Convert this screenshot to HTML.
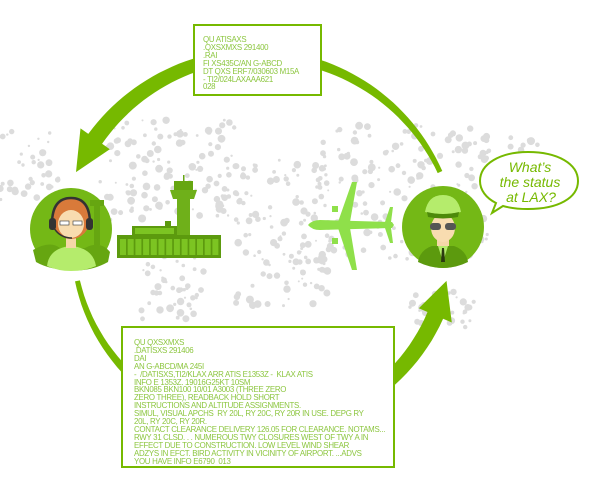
<!DOCTYPE html>
<html><head><meta charset="utf-8">
<style>
html,body{margin:0;padding:0;background:#fff;}
#w{position:relative;width:600px;height:486px;overflow:hidden;font-family:"Liberation Sans",sans-serif;}
.box{position:absolute;background:#fff;border:2px solid #76b900;color:#8cc63f;font-size:7.9px;line-height:7.9px;white-space:pre;letter-spacing:-0.3px;}
svg{position:absolute;left:0;top:0;}
</style></head><body><div id="w">
<svg id="s" width="600" height="486" viewBox="0 0 600 486">
<g id="dots" fill="#dcdcdc"></g>
<path id="a1" fill="#76b900"/>
<path id="a2" fill="#76b900"/>
<circle cx="71" cy="229" r="41" fill="#74b816"/>
<rect x="94" y="205" width="6" height="40" fill="#66a611"/>
<rect x="90" y="200" width="14" height="6" fill="#66a611"/>
<path d="M33 250 Q50 240 60 248 L85 248 Q100 240 110 252 L108 262 Q90 272 71 270 Q50 270 36 262Z" fill="#66a611"/>
<path d="M47 266 Q49 248 71 246 Q93 248 96 266 Q85 271 71 271 Q58 271 47 266Z" fill="#b5ec6c"/>
<rect x="66" y="236" width="10" height="12" fill="#f5d7a8"/>
<ellipse cx="71" cy="219" rx="19" ry="20" fill="#d97a3a"/>
<ellipse cx="71" cy="224" rx="13" ry="14" fill="#f8dcb0"/>
<path d="M55 214 Q71 198 88 214 L88 206 Q71 192 54 206Z" fill="#d97a3a"/>
<path d="M52 224 Q52 198 71 198 Q90 198 90 224" fill="none" stroke="#333" stroke-width="2.5"/>
<rect x="49" y="218" width="7" height="12" rx="3" fill="#333"/>
<rect x="86" y="218" width="7" height="12" rx="3" fill="#333"/>
<path d="M54 228 Q60 238 72 238" fill="none" stroke="#333" stroke-width="1.5"/>
<rect x="60" y="221" width="9" height="4" fill="#fff" stroke="#333" stroke-width="0.6"/>
<rect x="73" y="221" width="9" height="4" fill="#fff" stroke="#333" stroke-width="0.6"/>
<rect x="177" y="192" width="13" height="45" fill="#6fb01a"/>
<path d="M170 190 L197 190 L194 199 L173 199Z" fill="#6fb01a"/>
<rect x="174" y="181" width="19" height="9" fill="#66a611"/>
<rect x="183" y="175" width="1.5" height="7" fill="#66a611"/>
<rect x="132" y="226" width="45" height="10" fill="#5c9a0e"/>
<rect x="135" y="228" width="39" height="6" fill="#7cc422"/>
<rect x="165" y="221" width="6" height="6" fill="#5c9a0e"/>
<rect x="117" y="235" width="104" height="23" fill="#5c9a0e"/>
<g id="win" fill="#7cc422"></g>
<g fill="#8fe04a">
<path d="M308 225 Q312 220 320 220 L392 222 L394 225 L392 228 L320 230 Q312 230 308 225Z"/>
<path d="M352 182 L357 182 L350 222 L338 222Z"/>
<path d="M338 228 L350 228 L357 270 L352 270Z"/>
<path d="M385 222 L390 207 L393 207 L391 222Z"/>
<path d="M385 228 L390 243 L393 243 L391 228Z"/>
<rect x="332" y="206" width="6" height="6"/>
<rect x="332" y="238" width="6" height="6"/>
</g>
<circle cx="443" cy="227" r="41" fill="#74b816"/>
<path d="M418 262 Q420 250 432 246 L454 246 Q466 250 468 262 Q456 268 443 268 Q430 268 418 262Z" fill="#5c9a0e"/>
<path d="M438 246 L448 246 L443 262Z" fill="#b5ec6c"/>
<path d="M442 248 L444 248 L445 262 L441 262Z" fill="#2b3a10"/>
<rect x="437" y="234" width="12" height="12" fill="#f5d7a8"/>
<ellipse cx="443" cy="228" rx="12" ry="14" fill="#f8dcb0"/>
<path d="M425 212 Q428 195 443 195 Q458 195 461 212 Q443 216 425 212Z" fill="#b5ec6c"/>
<path d="M427 212 Q443 216 459 212 L458 217 Q443 220 428 217Z" fill="#4d8a0a"/>
<rect x="430" y="223" width="11" height="7" rx="3" fill="#555"/>
<rect x="445" y="223" width="11" height="7" rx="3" fill="#555"/>
<path d="M528 152 C558 152 578 164 578 181 C578 198 558 209 528 209 C518 209 510 208 503 206 L492 213 L496 203 C486 198 480 190 480 181 C480 164 500 152 528 152Z" fill="#fff" stroke="#76b900" stroke-width="2"/>
<g font-family="Liberation Sans,sans-serif" font-style="italic" font-size="14" fill="#76b900" text-anchor="middle">
<text x="530" y="172">What’s</text>
<text x="530" y="187">the status</text>
<text x="531" y="202">at LAX?</text>
</g>
</svg>
<div class="box" style="left:193px;top:24px;padding:10px 0 0 8px;box-sizing:border-box;width:129px;height:72px;">QU ATISAXS
.QXSXMXS 291400
.RAI
FI XS435C/AN G-ABCD
DT QXS ERF7/030603 M15A
- TI2/024LAXAAA621
028</div>
<div class="box" style="left:121px;top:326px;width:274px;height:142px;padding:11px 0 0 11px;box-sizing:border-box;">QU QXSXMXS
.DATISXS 291406
DAI
AN G-ABCD/MA 245I
-  /DATISXS,TI2/KLAX ARR ATIS E1353Z -  KLAX ATIS
INFO E 1353Z. 19016G25KT 10SM
BKN085 BKN100 10/01 A3003 (THREE ZERO
ZERO THREE), READBACK HOLD SHORT
INSTRUCTIONS AND ALTITUDE ASSIGNMENTS.
SIMUL, VISUAL APCHS  RY 20L, RY 20C, RY 20R IN USE. DEPG RY
20L, RY 20C, RY 20R.
CONTACT CLEARANCE DELIVERY 126.05 FOR CLEARANCE. NOTAMS...
RWY 31 CLSD. . . NUMEROUS TWY CLOSURES WEST OF TWY A IN
EFFECT DUE TO CONSTRUCTION. LOW LEVEL WIND SHEAR
ADZYS IN EFCT. BIRD ACTIVITY IN VICINITY OF AIRPORT. ...ADVS
YOU HAVE INFO E6790  013</div>
</div>
<script>
function arc(cx,cy,r,a0,a1,w0,w1,ah,hw){
 var d=Math.PI/180,pts1=[],pts2=[],n=60;
 var sgn=a1>a0?1:-1, ab=a1-sgn*ah;
 for(var i=0;i<=n;i++){var t=i/n,a=(a0+(ab-a0)*t)*d,w=w0+(w1-w0)*t;
  pts1.push([cx+(r+w/2)*Math.cos(a),cy+(r+w/2)*Math.sin(a)]);
  pts2.push([cx+(r-w/2)*Math.cos(a),cy+(r-w/2)*Math.sin(a)]);}
 var b=ab*d,t=a1*d;
 var p="M"+pts1.map(function(q){return q[0].toFixed(1)+" "+q[1].toFixed(1)}).join("L");
 p+="L"+(cx+(r+hw)*Math.cos(b)).toFixed(1)+" "+(cy+(r+hw)*Math.sin(b)).toFixed(1);
 p+="L"+(cx+r*Math.cos(t)).toFixed(1)+" "+(cy+r*Math.sin(t)).toFixed(1);
 p+="L"+(cx+(r-hw)*Math.cos(b)).toFixed(1)+" "+(cy+(r-hw)*Math.sin(b)).toFixed(1);
 p+="L"+pts2.reverse().map(function(q){return q[0].toFixed(1)+" "+q[1].toFixed(1)}).join("L")+"Z";
 return p;}
document.getElementById("a1").setAttribute("d",arc(258,255,200,-24.5,-155.5,5,17,11,18));
document.getElementById("a2").setAttribute("d",arc(262,240,189,167.5,12.5,5,17,11,18));
var s=7,R=function(){s=(s*16807)%2147483647;return s/2147483647;};
var regs=[[100,120,135,100,130],[0,130,60,70,35],[140,250,65,70,50],[235,160,95,150,130],[320,125,170,135,170],[410,285,65,45,35],[480,135,60,40,20]];
var g=document.getElementById("dots"),h="";
regs.forEach(function(r){for(var i=0;i<r[4];i++){var x=r[0]+R()*r[2],y=r[1]+R()*r[3];h+='<circle cx="'+x.toFixed(1)+'" cy="'+y.toFixed(1)+'" r="'+(1+R()*3).toFixed(1)+'"/>';}});
g.innerHTML=h;
var wn="";for(var i=0;i<13;i++){wn+='<rect x="'+(120+i*7.7).toFixed(1)+'" y="239" width="6" height="16"/>';}
document.getElementById("win").innerHTML=wn;
</script>
</body></html>
